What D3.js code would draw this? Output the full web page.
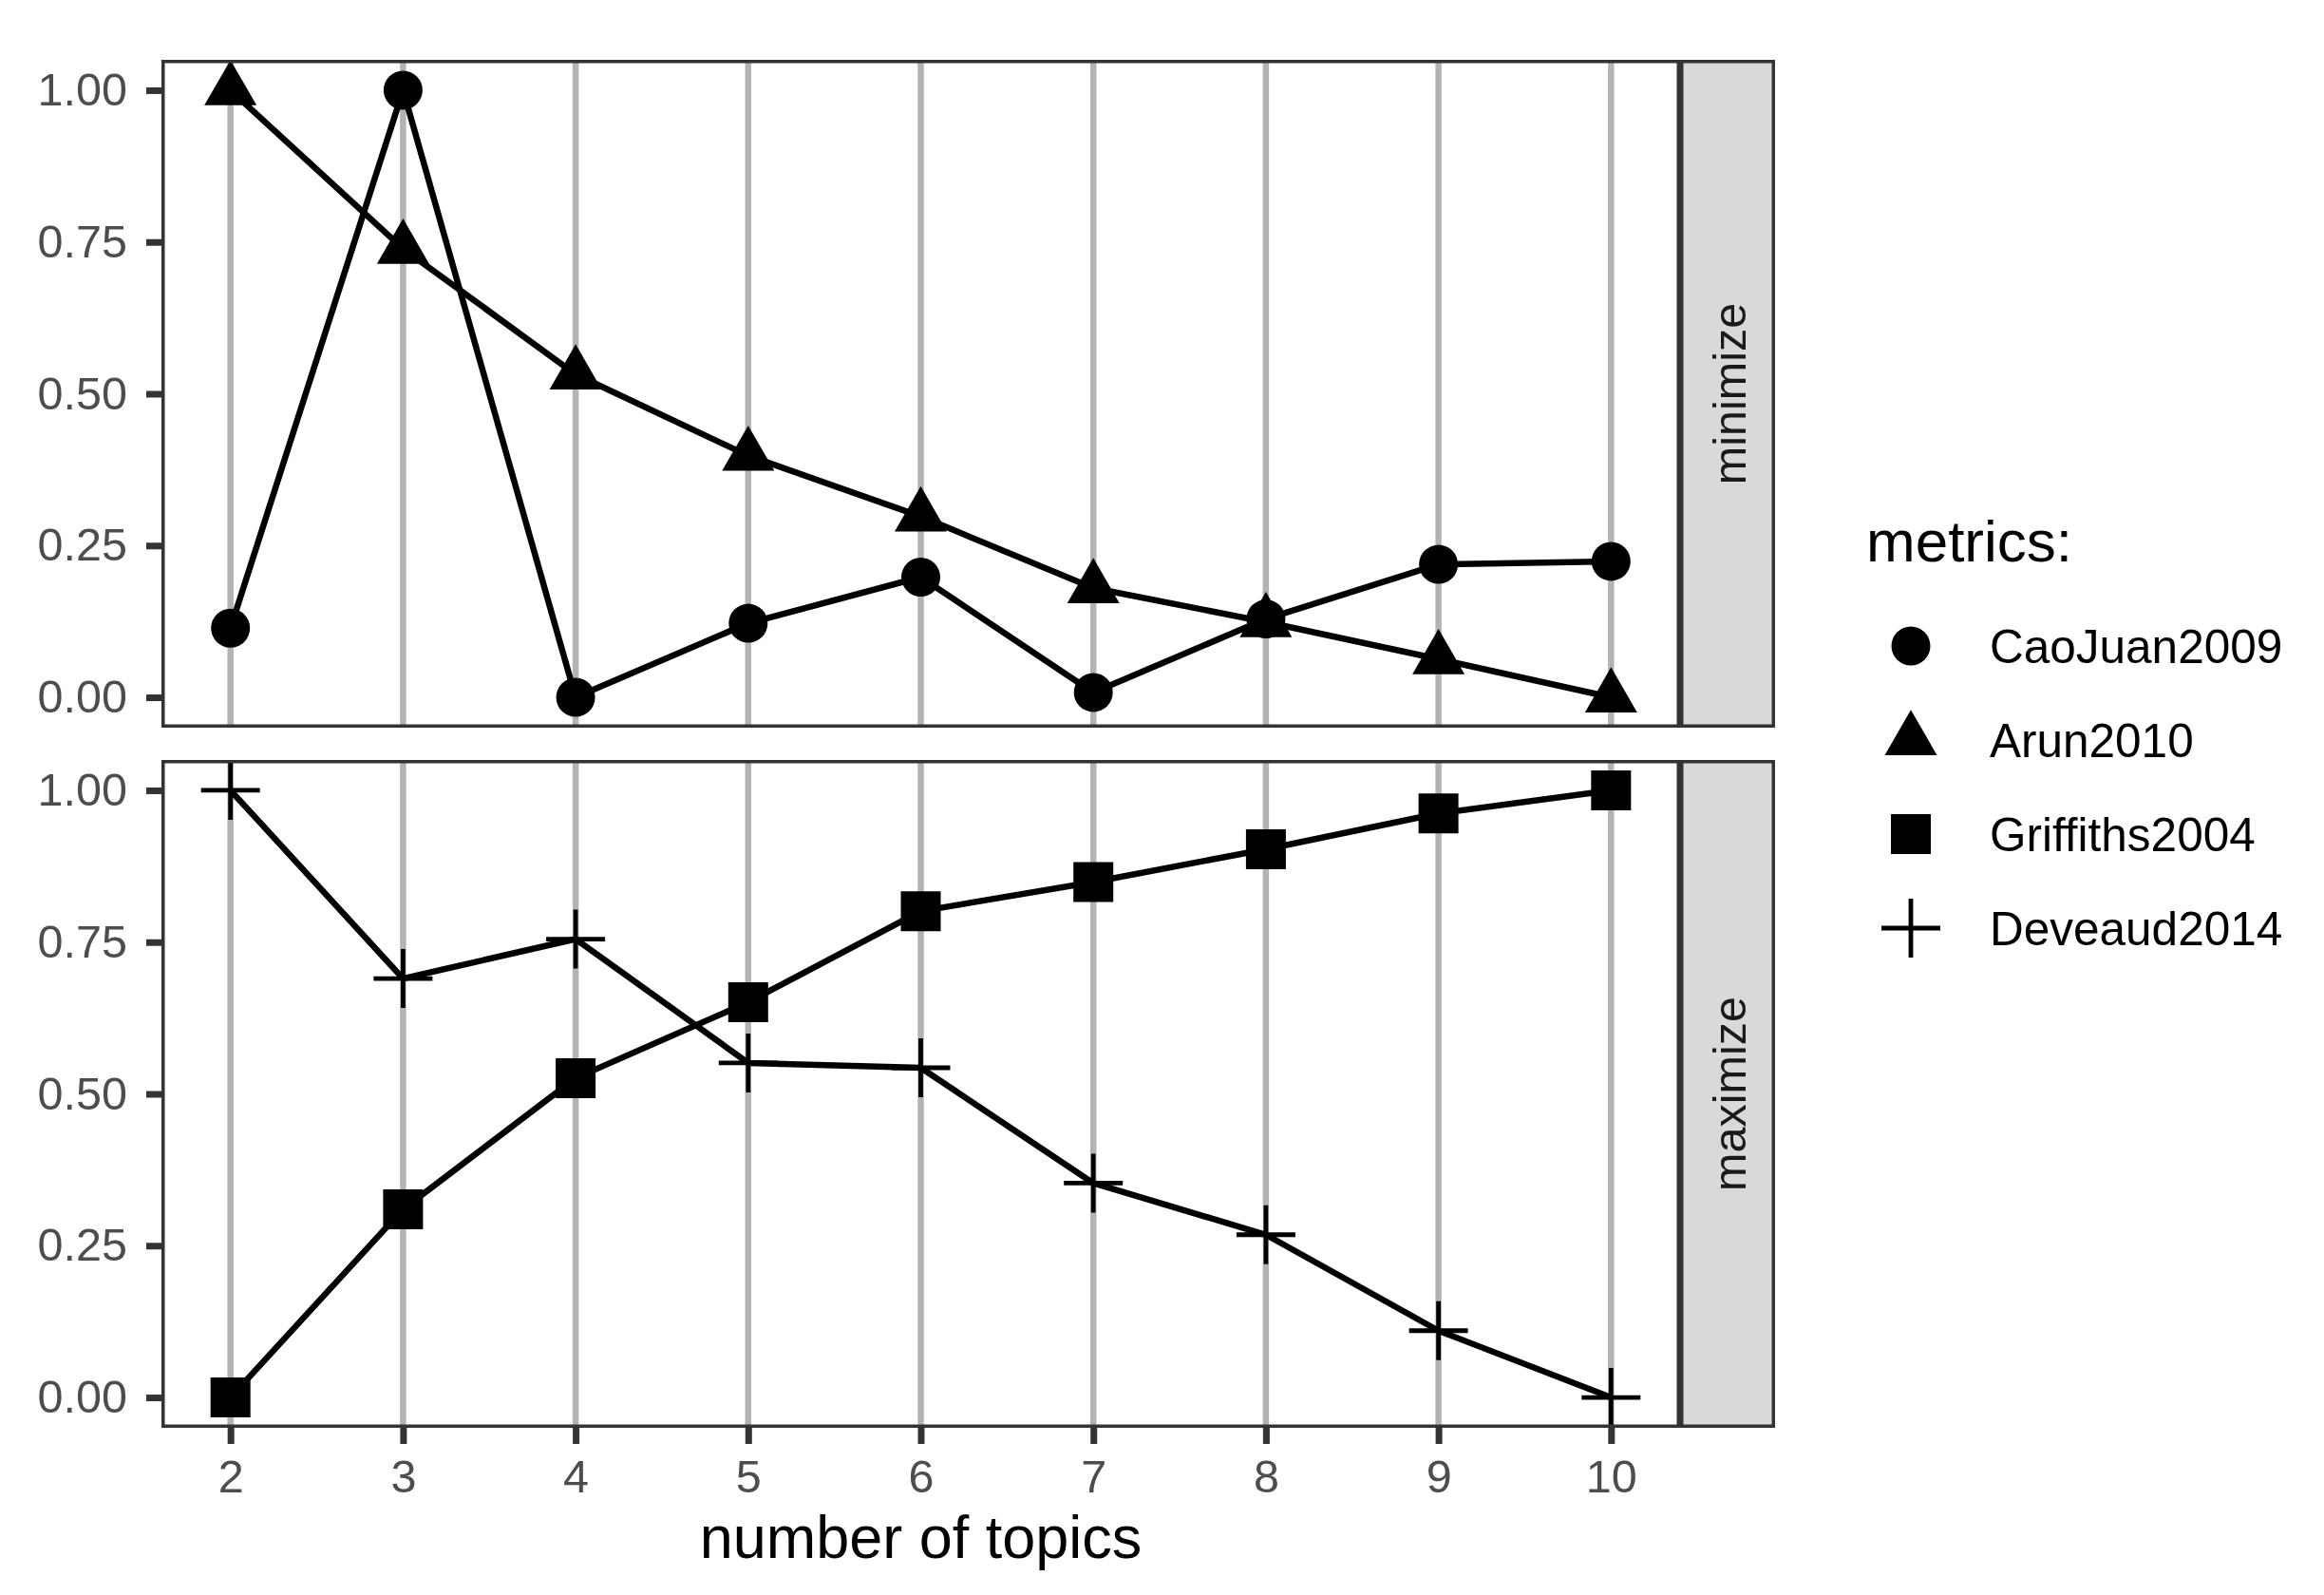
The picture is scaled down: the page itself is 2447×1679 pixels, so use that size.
<!DOCTYPE html>
<html>
<head>
<meta charset="utf-8">
<script src="https://cdn.jsdelivr.net/npm/d3@7"></script>
<style>
  body { margin: 0; background: #fff; }
  text { font-family: "Liberation Sans", Arial, sans-serif; }
</style>
</head>
<body>
<script>
// values
const topics = [2, 3, 4, 5, 6, 7, 8, 9, 10];
const caoJuan2009 = [0.114, 1.00, 0.00, 0.122, 0.198, 0.008, 0.129, 0.219, 0.224];
const arun2010 = [1.00, 0.739, 0.532, 0.398, 0.298, 0.180, 0.124, 0.063, 0.00];
const griffiths2004 = [0.00, 0.310, 0.526, 0.651, 0.801, 0.849, 0.903, 0.962, 1.00];
const deveaud2014 = [1.00, 0.690, 0.755, 0.551, 0.543, 0.353, 0.268, 0.110, 0.00];
const yTicks = [0, 0.25, 0.5, 0.75, 1];
const panelNames = ['minimize', 'maximize'];
const metricNames = ['CaoJuan2009', 'Arun2010', 'Griffiths2004', 'Deveaud2014'];

const series = [
    { name: 'CaoJuan2009', panel: 'minimize', shape: 'circle', values: caoJuan2009 },
    { name: 'Arun2010', panel: 'minimize', shape: 'triangle', values: arun2010 },
    { name: 'Griffiths2004', panel: 'maximize', shape: 'square', values: griffiths2004 },
    { name: 'Deveaud2014', panel: 'maximize', shape: 'plus', values: deveaud2014 }
];
const shapeOf = Object.fromEntries(series.map(s => [s.name, s.shape]));

const svgWidth = 2447;
const svgHeight = 1679;
const panelLeft = 170;
const panelRight = 1769;
const stripWidth = 100;
const panelTops = [63, 800];
const panelHeight = 703;
const borderW = 3.5;

const svg = d3.select('body')
    .append('svg')
    .attr('width', svgWidth)
    .attr('height', svgHeight);

const x = d3.scaleLinear()
    .domain([1.6, 10.4])
    .range([panelLeft, panelRight]);

function markerPath(shape) {
    if (shape === 'circle') return d3.symbol(d3.symbolCircle, 1320)();
    if (shape === 'square') return d3.symbol(d3.symbolSquare, 1764)();
    if (shape === 'triangle') return d3.symbol(d3.symbolTriangle, 1310)();
    return 'M-31,0H31M0,-31V31';
}

function drawMarker(g, shape) {
    const p = g.append('path').attr('d', markerPath(shape));
    if (shape === 'plus') {
        p.attr('fill', 'none').attr('stroke', '#000').attr('stroke-width', 4.8);
    } else {
        p.attr('fill', '#000');
    }
}

panelNames.forEach((panel, i) => {
    const top = panelTops[i];
    const y = d3.scaleLinear()
        .domain([-0.05, 1.05])
        .range([top + panelHeight, top]);

    const g = svg.append('g');

    // panel background + vertical grid lines
    g.append('rect')
        .attr('x', panelLeft).attr('y', top)
        .attr('width', panelRight - panelLeft).attr('height', panelHeight)
        .attr('fill', '#fff');

    g.selectAll('.grid')
        .data(topics)
        .enter()
        .append('line')
        .attr('x1', d => x(d)).attr('x2', d => x(d))
        .attr('y1', top).attr('y2', top + panelHeight)
        .attr('stroke', '#b3b3b3')
        .attr('stroke-width', 6.5);

    // lines then points
    const line = d3.line()
        .x((d, j) => x(topics[j]))
        .y(d => y(d));

    const inPanel = series.filter(s => s.panel === panel);

    inPanel.forEach(s => {
        g.append('path')
            .datum(s.values)
            .attr('d', line)
            .attr('fill', 'none')
            .attr('stroke', '#000')
            .attr('stroke-width', 6.5)
            .attr('stroke-linejoin', 'round');
    });

    inPanel.forEach(s => {
        s.values.forEach((v, j) => {
            const m = g.append('g')
                .attr('transform', `translate(${x(topics[j])},${y(v)})`);
            drawMarker(m, s.shape);
        });
    });

    // panel border (only inner half shows in the original)
    g.append('rect')
        .attr('x', panelLeft + borderW / 2).attr('y', top + borderW / 2)
        .attr('width', panelRight - panelLeft - borderW)
        .attr('height', panelHeight - borderW)
        .attr('fill', 'none')
        .attr('stroke', '#333')
        .attr('stroke-width', borderW);

    // strip on the right
    g.append('rect')
        .attr('x', panelRight + borderW / 2).attr('y', top + borderW / 2)
        .attr('width', stripWidth - borderW)
        .attr('height', panelHeight - borderW)
        .attr('fill', '#d9d9d9')
        .attr('stroke', '#333')
        .attr('stroke-width', borderW);

    g.append('text')
        .attr('transform', `translate(${panelRight + stripWidth / 2 + 19},${top + panelHeight / 2}) rotate(-90)`)
        .attr('text-anchor', 'middle')
        .attr('font-size', 48.5)
        .attr('fill', '#1a1a1a')
        .text(panel);

    // y axis
    const yAxis = g.append('g')
        .attr('transform', `translate(${panelLeft},0)`)
        .call(d3.axisLeft(y)
            .tickValues(yTicks)
            .tickFormat(d3.format('.2f'))
            .tickSize(16)
            .tickPadding(20));
    yAxis.select('.domain').remove();
    yAxis.selectAll('.tick line').attr('stroke', '#333').attr('stroke-width', 7);
    yAxis.selectAll('.tick text')
        .attr('font-size', 48.5)
        .attr('font-family', '"Liberation Sans", Arial, sans-serif')
        .attr('fill', '#4d4d4d');

    // x axis only under the bottom panel
    if (i === panelNames.length - 1) {
        const xAxis = g.append('g')
            .attr('transform', `translate(0,${top + panelHeight})`)
            .call(d3.axisBottom(x)
                .tickValues(topics)
                .tickFormat(d3.format('d'))
                .tickSize(17)
                .tickPadding(17));
        xAxis.select('.domain').remove();
        xAxis.selectAll('.tick line').attr('stroke', '#333').attr('stroke-width', 7);
        xAxis.selectAll('.tick text')
            .attr('font-size', 48.5)
            .attr('font-family', '"Liberation Sans", Arial, sans-serif')
            .attr('fill', '#4d4d4d');
    }
});

// axis title
svg.append('text')
    .attr('x', (panelLeft + panelRight) / 2)
    .attr('y', 1640)
    .attr('text-anchor', 'middle')
    .attr('font-size', 63)
    .attr('fill', '#000')
    .text('number of topics');

// legend
const legend = svg.append('g');
legend.append('text')
    .attr('x', 1965)
    .attr('y', 591)
    .attr('font-size', 62)
    .attr('fill', '#000')
    .text('metrics:');

const legendY = d3.scalePoint()
    .domain(metricNames)
    .range([680, 977]);

metricNames.forEach(name => {
    const key = legend.append('g')
        .attr('transform', `translate(2012,${legendY(name)})`);
    drawMarker(key, shapeOf[name]);
    legend.append('text')
        .attr('x', 2095)
        .attr('y', legendY(name))
        .attr('dy', '0.37em')
        .attr('font-size', 49.5)
        .attr('fill', '#000')
        .text(name);
});
</script>
</body>
</html>
